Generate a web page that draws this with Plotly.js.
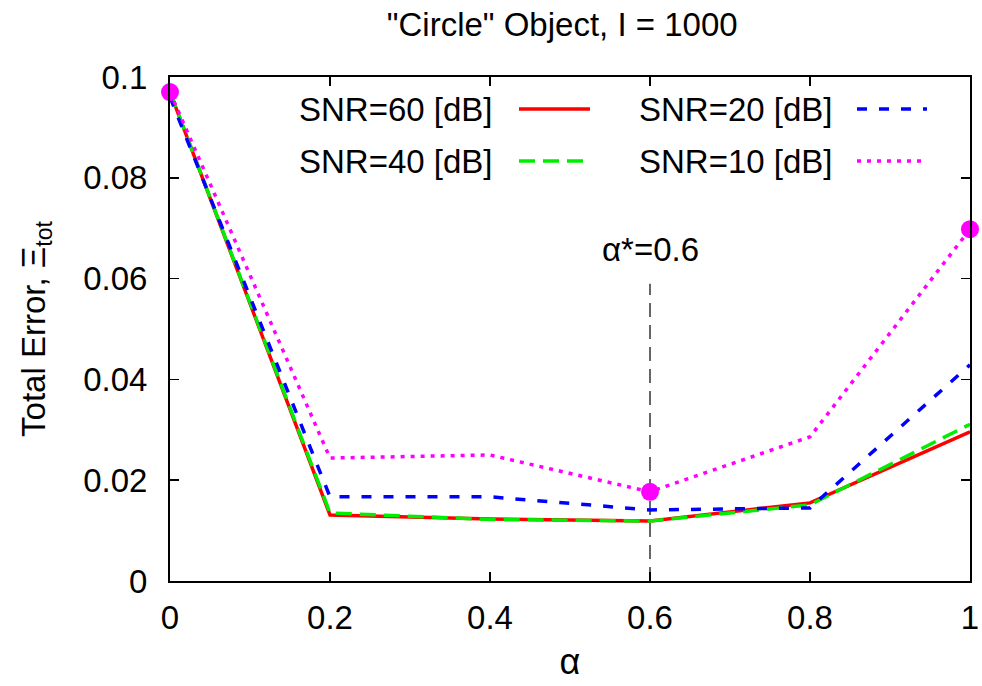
<!DOCTYPE html>
<html><head><meta charset="utf-8">
<script src="https://cdn.plot.ly/plotly-3.0.1.min.js"></script>
<style>html,body{margin:0;padding:0;background:#fff}</style>
</head><body>
<div id="chart" style="width:982px;height:686px"></div>
<script>
const alpha = [0, 0.2, 0.4, 0.6, 0.8, 1.0];
const snr60 = [0.0970, 0.0131, 0.0123, 0.0119, 0.0155, 0.0296];
const snr40 = [0.0970, 0.0135, 0.0122, 0.0119, 0.0151, 0.0311];
const snr20 = [0.0960, 0.0167, 0.0167, 0.0141, 0.0145, 0.0429];
const snr10 = [0.0970, 0.0244, 0.0250, 0.0177, 0.0286, 0.0698];
const markAlpha = [0, 0.6, 1.0];
const markErr = [0.0970, 0.0177, 0.0698];
const seriesNames = ["SNR=60 [dB]", "SNR=40 [dB]", "SNR=20 [dB]", "SNR=10 [dB]"];
const yTicks = [0, 0.02, 0.04, 0.06, 0.08, 0.1];
const yTickText = ["0", "0.02", "0.04", "0.06", "0.08", "0.1"];
const xTicks = [0, 0.2, 0.4, 0.6, 0.8, 1];
const xTickText = ["0", "0.2", "0.4", "0.6", "0.8", "1"];
const alphaStar = 0.6;
const alphaStarLineTop = 0.059;

const font = "Liberation Sans, Arial, Helvetica, sans-serif";
const FS = 33;
const styles = [
  {color: "#ff0000", dash: "solid"},
  {color: "#00ee00", dash: "16px,8px"},
  {color: "#0000ff", dash: "10px,12px"},
  {color: "#ff00ff", dash: "4px,6px"}
];
const ys = [snr60, snr40, snr20, snr10];
const traces = ys.map((y, i) => ({
  x: alpha, y: y, type: "scatter", mode: "lines", name: seriesNames[i],
  line: {color: styles[i].color, dash: styles[i].dash, width: 3.5},
  showlegend: false, cliponaxis: false
}));
traces.push({
  x: markAlpha, y: markErr, type: "scatter", mode: "markers",
  marker: {color: "#ff00ff", size: 18}, showlegend: false, cliponaxis: false
});

// custom legend (text then sample line), gnuplot style
const legPos = [
  {tx: 495, ty: 109, l0: 519, l1: 590},
  {tx: 495, ty: 161, l0: 519, l1: 590},
  {tx: 835, ty: 109, l0: 857, l1: 927},
  {tx: 835, ty: 161, l0: 857, l1: 927}
];
const W = 982, H = 686;
const annotations = [];
const shapes = [];
seriesNames.forEach((n, i) => {
  const p = legPos[i];
  annotations.push({xref: "paper", yref: "paper", x: (p.tx - 170) / 800, y: 1 - (p.ty - 77) / 504,
    text: n, showarrow: false, xanchor: "right", yanchor: "middle",
    font: {family: font, size: FS, color: "#000"}});
  shapes.push({type: "line", xref: "paper", yref: "paper",
    x0: (p.l0 - 170) / 800, x1: (p.l1 - 170) / 800,
    y0: 1 - (p.ty - 77) / 504, y1: 1 - (p.ty - 77) / 504,
    line: {color: styles[i].color, dash: styles[i].dash, width: 3.5}});
});
shapes.push({type: "line", xref: "x", yref: "y", x0: alphaStar, x1: alphaStar, y0: 0, y1: alphaStarLineTop,
  line: {color: "#333", width: 1.5, dash: "14px,8px"}, layer: "below"});
annotations.push({x: alphaStar, y: 0.0657, xref: "x", yref: "y", text: "α*=0.6", showarrow: false,
  font: {family: font, size: FS, color: "#000"}, yanchor: "middle"});

const axisCommon = {
  showgrid: false, zeroline: false, showline: true, mirror: "allticks",
  linecolor: "#000", linewidth: 2, ticks: "inside", ticklen: 9, tickwidth: 1.5, tickcolor: "#000",
  tickfont: {family: font, size: FS, color: "#000"}
};
const layout = {
  width: W, height: H,
  margin: {l: 170, r: 12, t: 77, b: 105},
  paper_bgcolor: "#fff", plot_bgcolor: "#fff",
  title: {text: "\"Circle\" Object, I = 1000", x: 0.5725, xanchor: "center", y: 0.965, yanchor: "middle",
    font: {family: font, size: 33, color: "#000"}},
  xaxis: Object.assign({}, axisCommon, {range: [0, 1], tickvals: xTicks, ticktext: xTickText,
    ticklabelstandoff: 6,
    title: {text: "α", font: {family: font, size: 36, color: "#000"}, standoff: 14}}),
  yaxis: Object.assign({}, axisCommon, {range: [0, 0.1], tickvals: yTicks, ticktext: yTickText,
    ticklabelstandoff: 14,
    title: {text: "Total Error, Ξ<sub>tot</sub>", font: {family: font, size: FS, color: "#000"}, standoff: 28}}),
  annotations: annotations, shapes: shapes, showlegend: false
};
Plotly.newPlot("chart", traces, layout, {displayModeBar: false, staticPlot: true});
</script>
</body></html>
